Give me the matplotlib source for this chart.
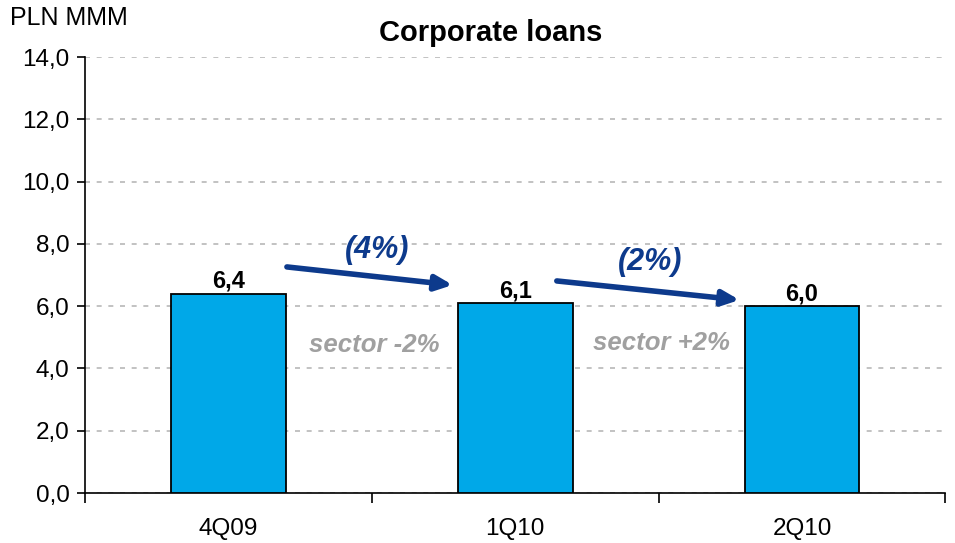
import matplotlib.pyplot as plt
import numpy as np
from matplotlib.ticker import FuncFormatter

plt.rcParams['font.family'] = ['Liberation Sans', 'DejaVu Sans']

trimestres = ['4Q09', '1Q10', '2Q10']
creditos = [6.4, 6.1, 6.0]
cambios = ['(4%)', '(2%)']
sector = ['sector -2%', 'sector +2%']

x = np.arange(len(trimestres))

fig = plt.figure(figsize=(9.55, 5.43), dpi=100)
ax = fig.add_axes([0.089, 0.092, 0.901, 0.803])

ax.bar(x, creditos, width=0.4, color='#00a8e8', edgecolor='black', linewidth=1.3, zorder=3)
for xi, v in zip(x, creditos):
    ax.text(xi, v + 0.4, f'{v:.1f}'.replace('.', ','), ha='center', va='center',
            fontsize=17, fontweight='bold')

ax.set_xlim(-0.5, 2.5)
ax.set_ylim(0, 14)
ax.set_yticks(np.arange(0, 15, 2))
ax.yaxis.set_major_formatter(FuncFormatter(lambda v, p: f'{v:.1f}'.replace('.', ',')))
ax.set_xticks(x)
ax.set_xticklabels(trimestres)
ax.set_xticks(np.arange(-0.5, 3, 1), minor=True)
ax.tick_params(axis='x', which='major', length=0, pad=18, labelsize=17.5)
ax.tick_params(axis='x', which='minor', length=7, width=1.2, direction='out')
ax.tick_params(axis='y', length=6, width=1.2, labelsize=17.5, direction='out', pad=5)

for s in ['top', 'right']:
    ax.spines[s].set_visible(False)
ax.spines['left'].set_linewidth(1.2)
ax.spines['bottom'].set_linewidth(1.2)
ax.grid(axis='y', linestyle=(0, (3, 4)), color='#b8b8b8', linewidth=1.2, zorder=0)
ax.set_axisbelow(True)

# flechas de variacion entre trimestres
flechas = [((0.204, 7.26), (0.782, 6.68)), ((1.145, 6.81), (1.782, 6.20))]
for (p0, p1), txt, pos in zip(flechas, cambios, [(0.52, 7.80), (1.47, 7.42)]):
    ax.annotate('', xy=p1, xytext=p0,
                arrowprops=dict(arrowstyle='-|>,head_length=1.0,head_width=0.45',
                                color='#0d3a8c', lw=4, shrinkA=0, shrinkB=0), zorder=5)
    ax.text(pos[0], pos[1], txt, ha='center', va='center', fontsize=22,
            fontweight='bold', style='italic', color='#0d3a8c')

for xs, ys, txt in zip([0.51, 1.51], [4.75, 4.82], sector):
    ax.text(xs, ys, txt, ha='center', va='center', fontsize=18.5,
            fontweight='bold', style='italic', color='#a0a0a0')

fig.text(0.514, 0.94, 'Corporate loans', ha='center', va='center', fontsize=21, fontweight='bold')
fig.text(0.01, 0.967, 'PLN MMM', ha='left', va='center', fontsize=18)

plt.savefig('out.png', dpi=100)
